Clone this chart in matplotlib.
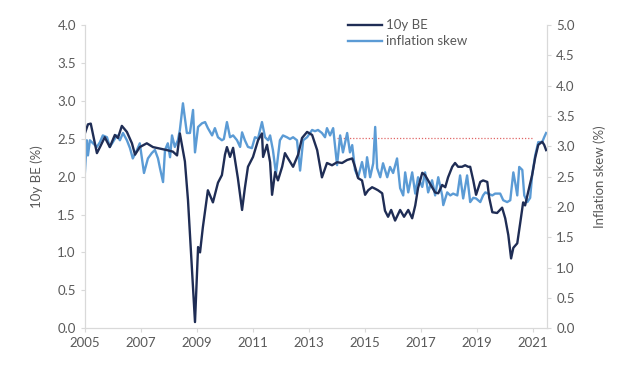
import numpy as np
import matplotlib
matplotlib.use('Agg')
import matplotlib.pyplot as plt

# 10y breakeven (left axis, %)
be_years = [2005.00, 2005.11, 2005.21, 2005.43, 2005.54, 2005.71, 2005.89, 2006.07, 2006.18, 2006.32,
            2006.50, 2006.68, 2006.79, 2006.96, 2007.21, 2007.43, 2007.68, 2007.93, 2008.14, 2008.29,
            2008.39, 2008.57, 2008.68, 2008.93, 2009.04, 2009.11, 2009.21, 2009.39, 2009.57, 2009.75,
            2009.89, 2010.00, 2010.07, 2010.18, 2010.29, 2010.46, 2010.61, 2010.71, 2010.82, 2011.00,
            2011.18, 2011.32, 2011.36, 2011.50, 2011.61, 2011.68, 2011.79, 2011.89, 2012.04, 2012.14,
            2012.25, 2012.43, 2012.61, 2012.75, 2012.93, 2013.11, 2013.29, 2013.46, 2013.64, 2013.82,
            2014.00, 2014.18, 2014.36, 2014.54, 2014.64, 2014.75, 2014.89, 2015.00, 2015.11, 2015.25,
            2015.36, 2015.46, 2015.61, 2015.71, 2015.82, 2015.93, 2016.07, 2016.25, 2016.39, 2016.54,
            2016.68, 2016.79, 2016.89, 2017.04, 2017.14, 2017.25, 2017.39, 2017.50, 2017.61, 2017.75,
            2017.86, 2017.96, 2018.11, 2018.21, 2018.32, 2018.46, 2018.57, 2018.68, 2018.75, 2018.86,
            2018.96, 2019.11, 2019.21, 2019.36, 2019.43, 2019.54, 2019.71, 2019.89, 2020.00, 2020.11,
            2020.21, 2020.29, 2020.43, 2020.54, 2020.64, 2020.71, 2020.82, 2020.96, 2021.07, 2021.18,
            2021.32, 2021.39, 2021.46]
be_vals = [2.57, 2.69, 2.70, 2.31, 2.39, 2.52, 2.39, 2.55, 2.51, 2.67,
           2.59, 2.44, 2.29, 2.39, 2.44, 2.39, 2.37, 2.35, 2.33, 2.28,
           2.57, 2.20, 1.69, 0.08, 1.07, 1.00, 1.33, 1.82, 1.66, 1.92,
           2.02, 2.29, 2.39, 2.26, 2.38, 1.98, 1.56, 1.85, 2.13, 2.26,
           2.48, 2.57, 2.26, 2.42, 2.19, 1.76, 2.06, 1.95, 2.13, 2.31,
           2.24, 2.13, 2.29, 2.51, 2.59, 2.55, 2.35, 1.99, 2.18, 2.15,
           2.19, 2.18, 2.22, 2.24, 2.13, 1.98, 1.95, 1.76, 1.82, 1.86,
           1.84, 1.82, 1.78, 1.55, 1.47, 1.56, 1.42, 1.56, 1.47, 1.56,
           1.45, 1.62, 1.85, 2.05, 2.02, 1.95, 1.86, 1.79, 1.78, 1.89,
           1.86, 1.99, 2.13, 2.18, 2.13, 2.13, 2.15, 2.13, 2.13, 1.95,
           1.76, 1.93, 1.95, 1.93, 1.72, 1.53, 1.52, 1.59, 1.45, 1.23,
           0.92, 1.06, 1.12, 1.40, 1.66, 1.62, 1.80, 2.02, 2.25, 2.42,
           2.46, 2.42, 2.35]

# inflation skew (right axis, %)
skew_years = [2005.00, 2005.07, 2005.11, 2005.18, 2005.29, 2005.43, 2005.54, 2005.64, 2005.79, 2005.89,
              2006.00, 2006.14, 2006.25, 2006.36, 2006.50, 2006.61, 2006.71, 2006.86, 2006.96, 2007.11,
              2007.25, 2007.39, 2007.50, 2007.61, 2007.68, 2007.79, 2007.86, 2007.96, 2008.04, 2008.11,
              2008.21, 2008.32, 2008.39, 2008.50, 2008.64, 2008.75, 2008.86, 2008.93, 2009.04, 2009.18,
              2009.29, 2009.39, 2009.54, 2009.64, 2009.75, 2009.89, 2009.96, 2010.07, 2010.18, 2010.29,
              2010.43, 2010.54, 2010.61, 2010.71, 2010.82, 2010.96, 2011.07, 2011.18, 2011.32, 2011.43,
              2011.54, 2011.61, 2011.71, 2011.82, 2011.96, 2012.07, 2012.21, 2012.32, 2012.43, 2012.57,
              2012.68, 2012.79, 2012.93, 2013.11, 2013.21, 2013.32, 2013.46, 2013.57, 2013.64, 2013.75,
              2013.86, 2014.00, 2014.11, 2014.21, 2014.36, 2014.46, 2014.54, 2014.64, 2014.75, 2014.89,
              2015.00, 2015.07, 2015.18, 2015.29, 2015.36, 2015.43, 2015.54, 2015.64, 2015.79, 2015.89,
              2016.00, 2016.14, 2016.25, 2016.36, 2016.43, 2016.54, 2016.68, 2016.79, 2016.89, 2017.04,
              2017.14, 2017.25, 2017.39, 2017.50, 2017.61, 2017.75, 2017.79, 2017.93, 2018.04, 2018.14,
              2018.29, 2018.39, 2018.50, 2018.64, 2018.75, 2018.86, 2018.96, 2019.11, 2019.21, 2019.29,
              2019.39, 2019.54, 2019.64, 2019.82, 2019.93, 2020.07, 2020.18, 2020.29, 2020.36, 2020.43,
              2020.50, 2020.61, 2020.68, 2020.79, 2020.89, 2020.96, 2021.07, 2021.18, 2021.32, 2021.39,
              2021.46]
skew_vals = [2.56, 3.10, 2.85, 3.10, 3.05, 2.99, 3.07, 3.18, 3.15, 2.99,
             3.07, 3.18, 3.10, 3.22, 3.10, 2.97, 2.80, 2.94, 3.05, 2.56,
             2.80, 2.89, 2.94, 2.80, 2.64, 2.41, 2.94, 3.05, 2.82, 3.18,
             2.99, 3.10, 3.27, 3.71, 3.22, 3.22, 3.60, 2.90, 3.32, 3.38,
             3.40, 3.30, 3.18, 3.30, 3.15, 3.10, 3.12, 3.40, 3.15, 3.18,
             3.10, 2.99, 3.23, 3.10, 2.99, 2.97, 3.15, 3.13, 3.40, 3.15,
             3.10, 3.18, 2.94, 2.55, 3.10, 3.18, 3.15, 3.12, 3.15, 3.10,
             2.60, 3.10, 3.15, 3.27, 3.25, 3.27, 3.22, 3.15, 3.30, 3.18,
             3.30, 2.69, 3.18, 2.90, 3.22, 2.90, 3.02, 2.61, 2.49, 2.74,
             2.49, 2.82, 2.49, 2.72, 3.32, 2.64, 2.49, 2.72, 2.49, 2.66,
             2.56, 2.80, 2.31, 2.19, 2.57, 2.24, 2.57, 2.22, 2.49, 2.33,
             2.57, 2.24, 2.44, 2.19, 2.49, 2.19, 2.03, 2.24, 2.19, 2.22,
             2.19, 2.52, 2.14, 2.52, 2.08, 2.15, 2.14, 2.08, 2.19, 2.24,
             2.22, 2.19, 2.22, 2.22, 2.11, 2.08, 2.11, 2.57, 2.39, 2.19,
             2.66, 2.61, 2.19, 2.08, 2.15, 2.52, 2.85, 3.07, 3.07, 3.15,
             3.22]

ref_level = 3.13
ref_span = [2014.0, 2021.0]
x_ticks = [2005, 2007, 2009, 2011, 2013, 2015, 2017, 2019, 2021]

grey = '#595959'
axis_grey = '#d9d9d9'
dark = '#1f2d55'
light = '#5b9bd5'

plt.rcParams['font.family'] = ['Lato', 'DejaVu Sans']

fig = plt.figure(figsize=(6.24, 3.75), dpi=100)
ax = fig.add_axes([0.136, 0.125, 0.741, 0.808])
ax2 = ax.twinx()

ax2.plot(ref_span, [ref_level, ref_level], color='#e06666', lw=0.9, ls=(0, (1, 1.5)), zorder=1)
l2, = ax2.plot(skew_years, skew_vals, color=light, lw=1.7, zorder=2, label='inflation skew')
l1, = ax.plot(be_years, be_vals, color=dark, lw=1.7, label='10y BE')
ax.set_zorder(ax2.get_zorder() + 1)
ax.patch.set_visible(False)

ax.set_xlim(2005, 2021.5)
ax.set_ylim(0, 4)
ax2.set_ylim(0, 5)
ax.set_xticks(x_ticks)
ax.set_yticks(np.arange(0, 4.01, 0.5))
ax2.set_yticks(np.arange(0, 5.01, 0.5))
ax.yaxis.set_major_formatter(matplotlib.ticker.FormatStrFormatter('%.1f'))
ax2.yaxis.set_major_formatter(matplotlib.ticker.FormatStrFormatter('%.1f'))

for a in (ax, ax2):
    for s in a.spines.values():
        s.set_color(axis_grey)
    a.spines['top'].set_visible(False)
    a.tick_params(colors=axis_grey, labelcolor=grey, labelsize=9.5, length=3)

ax.set_ylabel('10y BE (%)', color=grey, fontsize=9.5, labelpad=10)
ax2.set_ylabel('Inflation skew (%)', color=grey, fontsize=9.5, labelpad=13)

fig.legend(handles=[l1, l2], loc='upper left', bbox_to_anchor=(0.538, 0.98),
           frameon=False, fontsize=9.5, labelcolor=grey, handlelength=2.6,
           handletextpad=0.3, labelspacing=0.3)

fig.savefig('out.png', dpi=100)
